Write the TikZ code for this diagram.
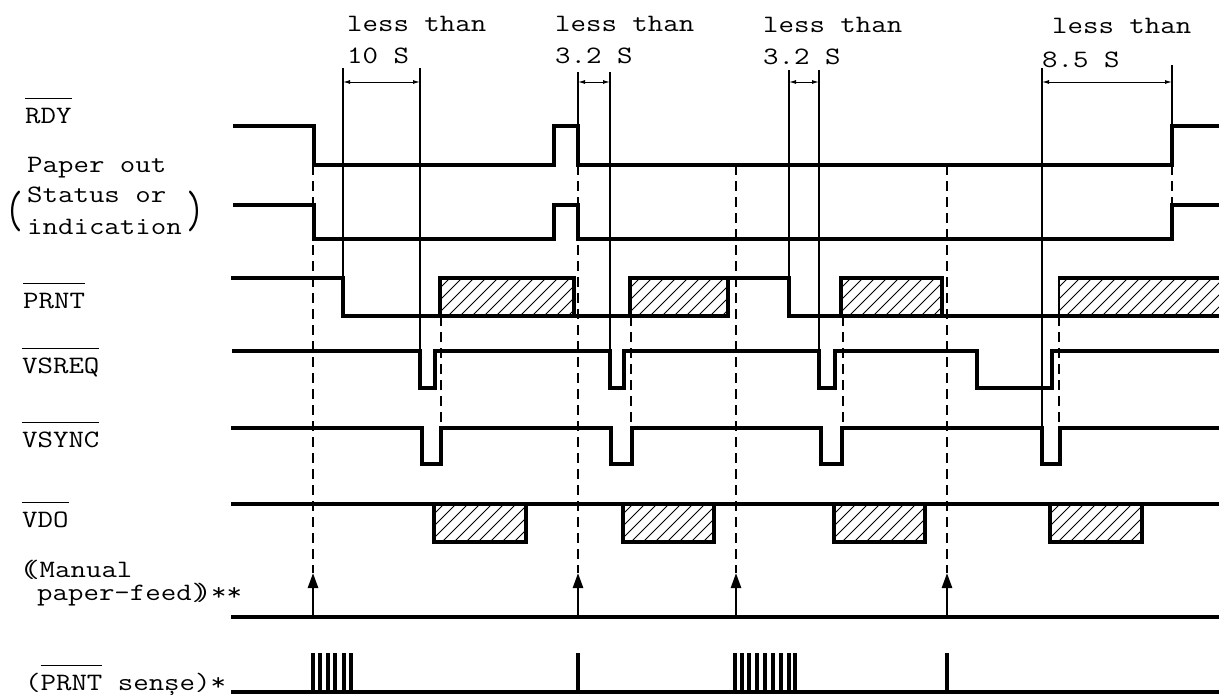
\documentclass[tikz,border=0pt]{standalone}
\usepackage{fontspec}
\setmainfont{Latin Modern Mono}
\usetikzlibrary{arrows.meta}
\newlength\ovlw
\newcommand\ovl[1]{\settowidth\ovlw{#1}\rlap{\rule[0.95em]{\ovlw}{1.1pt}}#1}
\newcommand\W[1]{\scalebox{1.2}[1]{#1}}
\newcommand\HatchBox[4]{%
  \draw[wave] (#1,#2) rectangle (#3,#4);
  \begin{scope}
    \clip (#1,#2) rectangle (#3,#4);
    \foreach \k in {0,...,40}{
      \pgfmathsetmacro\hx{#1-40+\k*12}
      \draw[hatch] (\hx,#4) -- ++(45,-45);
    }
  \end{scope}}
\begin{document}
\begin{tikzpicture}[x=1pt,y=-1pt,
  every node/.style={font=\fontsize{25}{30}\selectfont, inner sep=0pt, anchor=base west},
  wave/.style={line width=3.1pt, line join=miter},
  tline/.style={line width=1.6pt},
  dline/.style={line width=1.6pt, dash pattern=on 10pt off 6pt},
  dim/.style={line width=1pt, {Latex[length=7pt,width=4pt]}-{Latex[length=7pt,width=4pt]}},
  feed/.style={line width=2.6pt, -{Triangle[length=15pt,width=10pt]}},
  hatch/.style={line width=0.9pt},
  pulse/.style={line width=3.2pt}]
\useasboundingbox (0,0) rectangle (1219,694);

% ---------- labels on the left ----------
\node (lrdy) at (25,123) {\W{\ovl{RDY}}};
\node (lpap) at (27,172) {\W{Paper out}};
\node (lsta) at (27,202) {\W{Status or}};
\node (lind) at (27,234) {\W{indication}};
\node[anchor=center] (lpl) at (15,211) {\scalebox{1.4}[2.1]{(}};
\node[anchor=center] (lpr) at (196,211) {\scalebox{1.4}[2.1]{)}};
\node (lprnt) at (23,308) {\W{\ovl{PRNT}}};
\node (lvsreq) at (22,373) {\W{\ovl{VSREQ}}};
\node (lvsync) at (22,447) {\W{\ovl{VSYNC}}};
\node (lvdo) at (22,527) {\W{\ovl{VDO}}};
\node (lman) at (20,577) {\W{(\kern-0.38em(Manual}};
\node (lfeed) at (37,600) {\W{paper-feed)\kern-0.38em)**}};
\node (lsense) at (25,690) {\W{(\ovl{PRNT} senșe)*}};

% ---------- top annotations ----------
\node (t1a) at (347,31) {\W{less than}};
\node (t1b) at (347,63) {\W{10 S}};
\node (t2a) at (555,31) {\W{less than}};
\node (t2b) at (555,63) {\W{3.2 S}};
\node (t3a) at (763,32) {\W{less than}};
\node (t3b) at (763,64) {\W{3.2 S}};
\node (t4a) at (1052,33) {\W{less than}};
\node (t4b) at (1042,67) {\W{8.5 S}};

% ---------- solid timing lines ----------
\draw[tline] (343,68) -- (343,278);
\draw[tline] (420,68) -- (420,351);
\draw[tline] (578,72) -- (578,126);
\draw[tline] (610,72) -- (610,351);
\draw[tline] (789,70) -- (789,278);
\draw[tline] (819,70) -- (819,351);
\draw[tline] (1042,68) -- (1042,428);
\draw[tline] (1172,65) -- (1172,126);

\draw[dim] (343,82) -- (420,82);
\draw[dim] (578,82) -- (610,82);
\draw[dim] (789,82) -- (819,82);
\draw[dim] (1042,82) -- (1172,82);

% ---------- dashed lines ----------
\foreach \x in {313,578,736,947}{\draw[dline] (\x,165) -- (\x,573);}
\draw[dline] (1172,165) -- (1172,205);
\foreach \x in {441,631,843,1059}{\draw[dline] (\x,316) -- (\x,428);}

% ---------- waveforms ----------
% RDY
\draw[wave] (233,126) -- (314,126) -- (314,165) -- (554,165) -- (554,126) -- (578,126)
  -- (578,165) -- (1172,165) -- (1172,126) -- (1219,126);
% Paper out
\draw[wave] (233,205) -- (314,205) -- (314,239) -- (554,239) -- (554,205) -- (578,205)
  -- (578,239) -- (1172,239) -- (1172,205) -- (1219,205);
% PRNT
\draw[wave] (231,278) -- (343,278) -- (343,316) -- (728,316) -- (728,278) -- (789,278)
  -- (789,316) -- (1219,316);
\HatchBox{440}{278}{574}{316}
\HatchBox{630}{278}{728}{316}
\HatchBox{841}{278}{942}{316}
\begin{scope}
  \clip (1058,270) rectangle (1219,320);
  \HatchBox{1058}{278}{1230}{316}
\end{scope}
% VSREQ
\draw[wave] (232,351) -- (420,351) -- (420,388) -- (435,388) -- (435,351) -- (610,351)
  -- (610,388) -- (624,388) -- (624,351) -- (819,351) -- (819,388) -- (835,388)
  -- (835,351) -- (977,351) -- (977,388) -- (1052,388) -- (1052,351) -- (1219,351);
% VSYNC
\draw[wave] (231,428) -- (422,428) -- (422,464) -- (441,464) -- (441,428) -- (611,428)
  -- (611,464) -- (632,464) -- (632,428) -- (821,428) -- (821,464) -- (842,464)
  -- (842,428) -- (1042,428) -- (1042,464) -- (1060,464) -- (1060,428) -- (1219,428);
% VDO
\draw[wave] (231,504) -- (1219,504);
\HatchBox{434}{504}{526}{542}
\HatchBox{623}{504}{714}{542}
\HatchBox{834}{504}{925}{542}
\HatchBox{1050}{504}{1142}{542}
% Manual paper-feed
\draw[wave] (231,617) -- (1219,617);
\foreach \x in {313,578,736,947}{\draw[feed] (\x,617) -- (\x,573);}
% PRNT sense
\draw[wave] (231,692) -- (1219,692);
\foreach \x in {313,320,328,335,344,351,578,735,742,749,757,765,773,781,789,795,947}
  {\draw[pulse] (\x,692) -- (\x,653);}
\end{tikzpicture}
\end{document}
